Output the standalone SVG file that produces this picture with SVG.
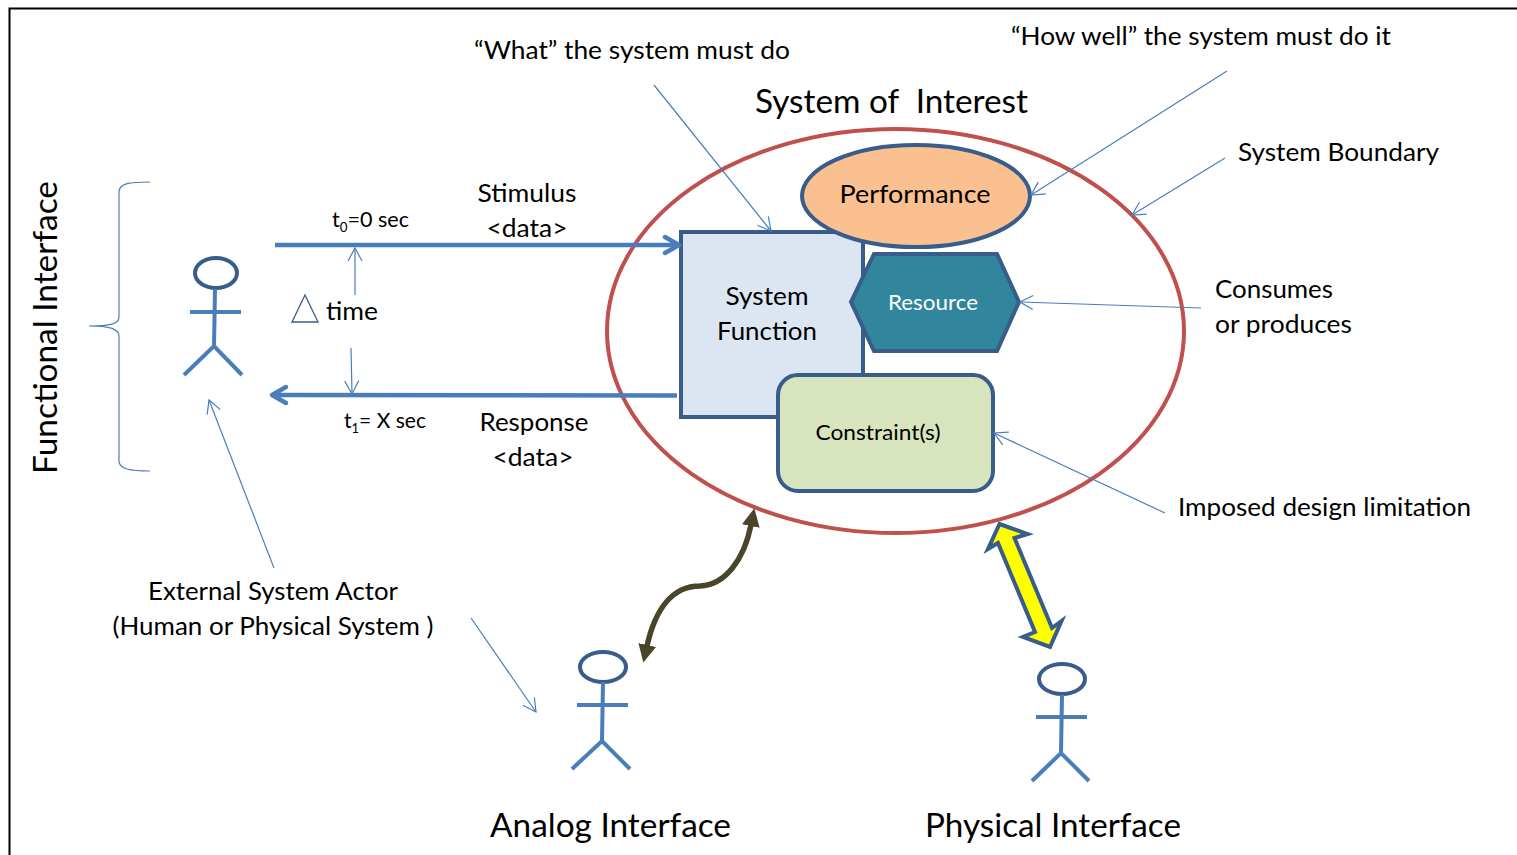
<svg xmlns="http://www.w3.org/2000/svg" width="1517" height="855" viewBox="0 0 1517 855">
<style>
text{font-family:Lato,"Liberation Sans",sans-serif;fill:#000;font-size:25px}
.m{text-anchor:middle}
.thin{fill:none;stroke:#4A7EBB;stroke-width:1.2}
.thick{fill:none;stroke:#4A7EBB;stroke-width:4.5}
.head{stroke-linecap:round;stroke-linejoin:round}
.actor path{fill:none;stroke:#4A7EBB;stroke-width:4}
.actor ellipse{fill:#fff;stroke:#385D8A;stroke-width:4}
.shape{stroke:#385D8A;stroke-width:4}
.big{font-size:32px}
.sm{font-size:21px}
.sub{font-size:13px}
</style>
<defs>
<marker id="open" markerWidth="16" markerHeight="16" refX="14" refY="8" orient="auto-start-reverse" markerUnits="userSpaceOnUse"><path d="M1 1L14 8L1 15" fill="none" stroke="#4A7EBB" stroke-width="1.2"/></marker>
<marker id="solid" markerWidth="20" markerHeight="20" refX="1" refY="9" orient="auto-start-reverse" markerUnits="userSpaceOnUse"><path d="M0 0L18 9L0 18Z" fill="#4A452A"/></marker>
</defs>
<g id="frame"><path d="M1517 8.500H9.500V855" fill="none" stroke="#000" stroke-width="2"/></g>
<g id="system-function"><rect class="shape" x="681" y="232" width="182" height="185" fill="#DCE6F2"/></g>
<g id="performance"><ellipse class="shape" cx="916" cy="196" rx="114" ry="51" fill="#FAC090"/><text class="m" x="915" y="203" textLength="151" lengthAdjust="spacingAndGlyphs">Performance</text></g>
<g id="resource"><path class="shape" d="M874 254H997L1019 302L997 351H874L851 302Z" fill="#31859C"/><text class="m" x="933" y="310" style="fill:#fff;font-size:22px" textLength="90" lengthAdjust="spacingAndGlyphs">Resource</text></g>
<g id="constraint"><rect class="shape" x="778" y="375" width="215" height="116" rx="20" fill="#D7E4BD"/><text class="m" x="878" y="440" style="font-size:22px" textLength="125" lengthAdjust="spacingAndGlyphs">Constraint(s)</text></g>
<g id="system-boundary"><ellipse cx="895.500" cy="331" rx="288.500" ry="202" fill="none" stroke="#C0504D" stroke-width="4"/></g>
<g id="sf-label"><text class="m" x="767" y="305" textLength="83" lengthAdjust="spacingAndGlyphs">System</text><text class="m" x="767" y="340" textLength="100" lengthAdjust="spacingAndGlyphs">Function</text></g>
<g id="actor-functional" class="actor"><ellipse cx="216" cy="273" rx="21" ry="15"/><path d="M215 289L214 347M190 312H241M184 375L214 346L242 375"/></g>
<g id="actor-analog" class="actor"><ellipse cx="603" cy="667" rx="23" ry="15"/><path d="M603 682L602 741M577 705H628M572 769L602 741L630 769"/></g>
<g id="actor-physical" class="actor"><ellipse cx="1062" cy="679" rx="23" ry="15"/><path d="M1062 695L1061 753M1036 717H1087M1032 781L1061 753L1089 781"/></g>
<g id="brace"><path class="thin" d="M150 182C130 182 119 183 119 192V317C119 324 110 326 89 326C110 326 119 329 119 336V461C119 469 130 471 150 471"/></g>
<g id="delta"><path d="M292 322L305 295L318 322Z" fill="none" stroke="#385D8A" stroke-width="1.300"/></g>
<g id="connectors">
<path class="thick" d="M275 245H678"/><path class="thick head" d="M665 237L679 245L665 253"/>
<path class="thick" d="M677 395.500L274 395"/><path class="thick head" d="M286 387L272 395L286 403"/>
<path class="thin" marker-end="url(#open)" d="M355 295V248"/>
<path class="thin" marker-end="url(#open)" d="M351 348L352 394"/>
<path class="thin" marker-end="url(#open)" d="M654 85L771 231"/>
<path class="thin" marker-end="url(#open)" d="M1227 71L1031 195"/>
<path class="thin" marker-end="url(#open)" d="M1225 158L1132 215"/>
<path class="thin" marker-end="url(#open)" d="M1201 308L1020 302"/>
<path class="thin" marker-end="url(#open)" d="M1165 513L994 433"/>
<path class="thin" marker-end="url(#open)" d="M274 568L209 400"/>
<path class="thin" marker-end="url(#open)" d="M471 618L536 712"/>
<path d="M751 525C744 560 725 585 700 586C672 586 655 610 647 646" fill="none" stroke="#4A452A" stroke-width="5.500" marker-start="url(#solid)" marker-end="url(#solid)"/>
<path d="M999.500 524L1027.500 534L1014.500 538L1052 628L1061.500 621L1050 647L1023 637L1035 632L998 543L988 549Z" fill="#FFFF00" stroke="#385D8A" stroke-width="4"/>
</g>
<g id="labels">
<text x="474" y="59" textLength="316" lengthAdjust="spacingAndGlyphs">“What” the system must do</text>
<text x="1011" y="45" textLength="380" lengthAdjust="spacingAndGlyphs">“How well” the system must do it</text>
<text x="755" y="113" style="font-size:32px;white-space:pre" textLength="273" lengthAdjust="spacingAndGlyphs">System of  Interest</text>
<text x="1238" y="161" textLength="201" lengthAdjust="spacingAndGlyphs">System Boundary</text>
<text x="1215" y="298" textLength="118" lengthAdjust="spacingAndGlyphs">Consumes</text>
<text x="1215" y="333" textLength="137" lengthAdjust="spacingAndGlyphs">or produces</text>
<text x="1178" y="516" textLength="293" lengthAdjust="spacingAndGlyphs">Imposed design limitation</text>
<text class="m" x="527" y="202" textLength="99" lengthAdjust="spacingAndGlyphs">Stimulus</text>
<text class="m" x="527" y="237" textLength="81" lengthAdjust="spacingAndGlyphs">&lt;data&gt;</text>
<text class="m" x="534" y="431" textLength="109" lengthAdjust="spacingAndGlyphs">Response</text>
<text class="m" x="533" y="466" textLength="81" lengthAdjust="spacingAndGlyphs">&lt;data&gt;</text>
<text x="326" y="320" textLength="52" lengthAdjust="spacingAndGlyphs">time</text>
<text x="332" y="227" class="sm" textLength="77" lengthAdjust="spacingAndGlyphs">t<tspan class="sub" dy="5">0</tspan><tspan dy="-5">=0 sec</tspan></text>
<text x="344" y="428" class="sm" textLength="82" lengthAdjust="spacingAndGlyphs">t<tspan class="sub" dy="5">1</tspan><tspan dy="-5">= X sec</tspan></text>
<text class="m" x="273" y="600" textLength="250" lengthAdjust="spacingAndGlyphs">External System Actor</text>
<text class="m" x="273" y="635" textLength="321" lengthAdjust="spacingAndGlyphs">(Human or Physical System )</text>
<text x="490" y="837" class="big" textLength="241" lengthAdjust="spacingAndGlyphs">Analog Interface</text>
<text x="925" y="837" class="big" textLength="256" lengthAdjust="spacingAndGlyphs">Physical Interface</text>
<text transform="translate(57 474) rotate(-90)" class="big" textLength="293" lengthAdjust="spacingAndGlyphs">Functional Interface</text>
</g>
</svg>
